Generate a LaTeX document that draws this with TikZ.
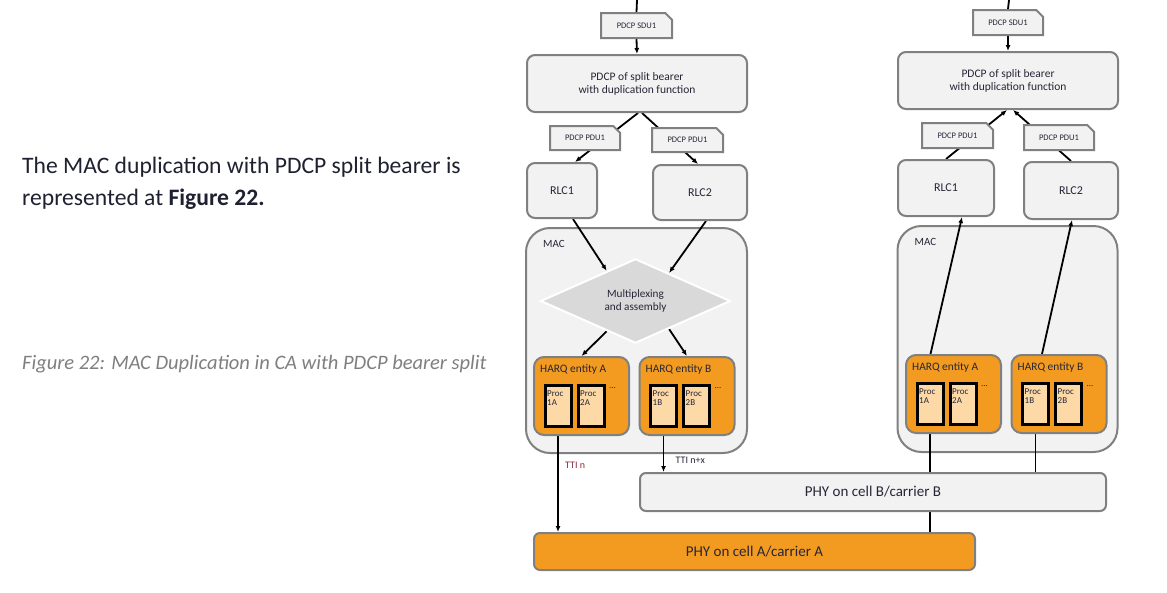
\documentclass[tikz,border=0pt]{standalone}
\usepackage{fontspec}
\setmainfont{Carlito}
\usetikzlibrary{arrows.meta,shapes.geometric,shapes.misc,calc}
\pgfdeclarelayer{back}
\pgfdeclarelayer{mid}
\pgfsetlayers{back,mid,main}

\definecolor{boxfill}{HTML}{F2F2F2}
\definecolor{boxgray}{HTML}{808080}
\definecolor{harqorange}{HTML}{F29B20}
\definecolor{procfill}{HTML}{FCD9A6}
\definecolor{muxfill}{HTML}{D9D9D9}
\definecolor{txt}{HTML}{262638}
\definecolor{bodytxt}{HTML}{1F2030}
\definecolor{capgray}{HTML}{7F7F7F}
\definecolor{ttired}{HTML}{8C2A3A}

\newcommand{\fsz}[2]{\fontsize{#1}{#2}\selectfont}

\tikzset{
  every node/.style={text=txt},
  box/.style={draw=boxgray, line width=2pt, fill=boxfill, rounded corners=8pt,
    inner sep=0pt, align=center, font=\fsz{11.5}{13}},
  pdu/.style={chamfered rectangle, chamfered rectangle corners=north east,
    chamfered rectangle xsep=4pt, chamfered rectangle ysep=4pt,
    draw=boxgray, line width=2pt, fill=boxfill, inner sep=0pt, font=\fsz{8.5}{9}},
  macbox/.style={box, rounded corners=24pt},
  mux/.style={diamond, draw=white, line width=2pt, fill=muxfill, inner sep=0pt,
    align=center, font=\fsz{11.2}{13}},
  harq/.style={box, fill=harqorange, rounded corners=10pt},
  proc/.style={draw=black, line width=3pt, fill=procfill, inner sep=0pt,
    minimum width=26pt, minimum height=41pt},
  proctext/.style={anchor=north west, inner sep=0pt, align=left, font=\fsz{9}{9.5}},
  phy/.style={box, font=\fsz{15}{16}, rounded corners=6pt},
  link/.style={line width=1.8pt},
  arr/.style={link, -{Latex[length=6pt,width=5pt]}},
}

% one HARQ entity: name, x, y, letter
\newcommand{\harqentity}[4]{%
  \node[harq, minimum width=95pt, minimum height=78pt] (#1) at (#2,#3) {};
  \node[anchor=west, inner sep=0pt, font=\fsz{11.4}{12}] (#1t)
    at ([xshift=7pt,yshift=-13pt]#1.north west) {HARQ entity #4};
  \node[proc] (#1p1) at ([xshift=-23.5pt,yshift=-9.5pt]#1.center) {};
  \node[proc] (#1p2) at ([xshift=9.5pt,yshift=-9.5pt]#1.center) {};
  \node[proctext] at ([xshift=3.5pt,yshift=-7pt]#1p1.north west) {Proc\\1#4};
  \node[proctext] at ([xshift=3.5pt,yshift=-7pt]#1p2.north west) {Proc\\2#4};
  \node[font=\fsz{9}{9}, inner sep=0pt] at ([xshift=31pt,yshift=8pt]#1.center) {...};
}

\begin{document}
\begin{tikzpicture}[x=1pt,y=-1pt]
\useasboundingbox (0,0) rectangle (1167,592);
\begin{pgfonlayer}{back}
\fill[white] (0,0) rectangle (1167,592);
\end{pgfonlayer}

% text of the page
\node[anchor=base west, inner sep=0pt, font=\fsz{23.6}{28}, text=bodytxt] (para1)
  at (22,173) {The MAC duplication with PDCP split bearer is};
\node[anchor=base west, inner sep=0pt, font=\fsz{23.6}{28}, text=bodytxt] (para2)
  at (22,205) {represented at \textbf{Figure 22.}};
\node[anchor=base west, inner sep=0pt, font=\fsz{20.5}{24}\itshape, text=capgray] (caption)
  at (22,369) {Figure 22: MAC Duplication in CA with PDCP bearer split};

% MAC containers
\begin{pgfonlayer}{back}
\node[macbox, minimum width=221pt, minimum height=225pt] (macL) at (636.5,340.5) {};
\node[macbox, minimum width=220pt, minimum height=226pt] (macR) at (1007.5,339) {};
\end{pgfonlayer}
\node[anchor=west, inner sep=0pt, font=\fsz{11}{12}] at ([xshift=18pt,yshift=-17pt]macL.north west) {MAC};
\node[anchor=west, inner sep=0pt, font=\fsz{11}{12}] at ([xshift=18pt,yshift=-17pt]macR.north west) {MAC};

% left stack (downlink)
\coordinate (topL) at (637,0);
\node[pdu, minimum width=71pt, minimum height=25pt] (sduL) at (636.5,25.5) {PDCP SDU1};
\node[box, minimum width=220pt, minimum height=57pt] (pdcpL) at (637,83.5)
  {PDCP of split bearer\\with duplication function};
\node[pdu, minimum width=70pt, minimum height=24pt] (pduAl) at (585,138) {PDCP PDU1};
\node[pdu, minimum width=71pt, minimum height=24pt] (pduBl) at (687.5,140) {PDCP PDU1};
\node[box, font=\fsz{12}{13}, minimum width=70pt, minimum height=55pt] (rlcAl) at (562,190.5) {RLC1};
\node[box, font=\fsz{12}{13}, minimum width=94pt, minimum height=55pt] (rlcBl) at (700,192.5) {RLC2};
\node[mux, minimum width=190pt, minimum height=75pt] (muxL) at (635.5,301)
  {Multiplexing\\and assembly};
\harqentity{harqAl}{581.5}{396}{A}
\harqentity{harqBl}{687}{396}{B}

% right stack (uplink)
\coordinate (topR) at (1009,0);
\node[pdu, minimum width=70pt, minimum height=25pt] (sduR) at (1008,22.5) {PDCP SDU1};
\node[box, minimum width=220pt, minimum height=57pt] (pdcpR) at (1008,80.5)
  {PDCP of split bearer\\with duplication function};
\node[pdu, minimum width=71pt, minimum height=25pt] (pduAr) at (957.5,135.5) {PDCP PDU1};
\node[pdu, minimum width=70pt, minimum height=25pt] (pduBr) at (1059,137.5) {PDCP PDU1};
\node[box, font=\fsz{12}{13}, minimum width=96pt, minimum height=56pt] (rlcAr) at (946,188) {RLC1};
\node[box, font=\fsz{12}{13}, minimum width=94pt, minimum height=57pt] (rlcBr) at (1071,190.5) {RLC2};
\harqentity{harqAr}{953.5}{394}{A}
\harqentity{harqBr}{1059}{394}{B}

% PHY
\node[phy, minimum width=466pt, minimum height=38pt] (phyB) at (873,492) {PHY on cell B/carrier B};
\node[phy, fill=harqorange, minimum width=441pt, minimum height=37pt] (phyA) at (754.5,551.5)
  {PHY on cell A/carrier A};

\begin{pgfonlayer}{mid}
% downlink
\draw[link] (topL) -- (sduL.north);
\draw[arr] (sduL.south) -- (pdcpL.north);
\draw[arr] ([xshift=1pt]pdcpL.south) -- ([xshift=13pt]rlcAl.north);
\draw[arr] ([xshift=5pt]pdcpL.south) -- ([xshift=-2pt]rlcBl.north);
\draw[arr] ([xshift=11pt]rlcAl.south) -- ($(muxL.west)!0.7!(muxL.north)$);
\draw[arr] ([xshift=6pt]rlcBl.south) -- ($(muxL.north)!0.35!(muxL.east)$);
\draw[arr] ($(muxL.west)!0.7!(muxL.south)$) -- (harqAl.north);
\draw[arr] ($(muxL.south)!0.35!(muxL.east)$) -- (harqBl.north);
\draw[arr] (harqAlp1.south) -- (harqAlp1.south |- phyA.north)
  node[pos=0.36, anchor=west, xshift=3pt, font=\fsz{10}{11}, text=ttired] {TTI n};
\draw[arr] (harqBlp1.south) -- (harqBlp1.south |- phyB.north)
  node[pos=0.74, anchor=west, xshift=8pt, font=\fsz{10}{11}] {TTI n+x};
% uplink
\draw[link] (topR) -- (sduR.north);
\draw[arr] (sduR.south) -- (pdcpR.north);
\draw[arr] (rlcAr.north) -- ([xshift=-1pt]pdcpR.south);
\draw[arr] (rlcBr.north) -- ([xshift=5pt]pdcpR.south);
\draw[arr] ([xshift=-23pt]harqAr.north) -- ([xshift=16pt]rlcAr.south);
\draw[arr] ([xshift=-17pt]harqBr.north) -- ([xshift=1pt]rlcBr.south);
\draw[arr] (harqArp1.south |- phyA.north) -- ([yshift=-1.5pt]harqArp1.south);
\draw[arr] (harqBrp1.south |- phyB.north) -- ([yshift=-1.5pt]harqBrp1.south);
\end{pgfonlayer}

\end{tikzpicture}
\end{document}
